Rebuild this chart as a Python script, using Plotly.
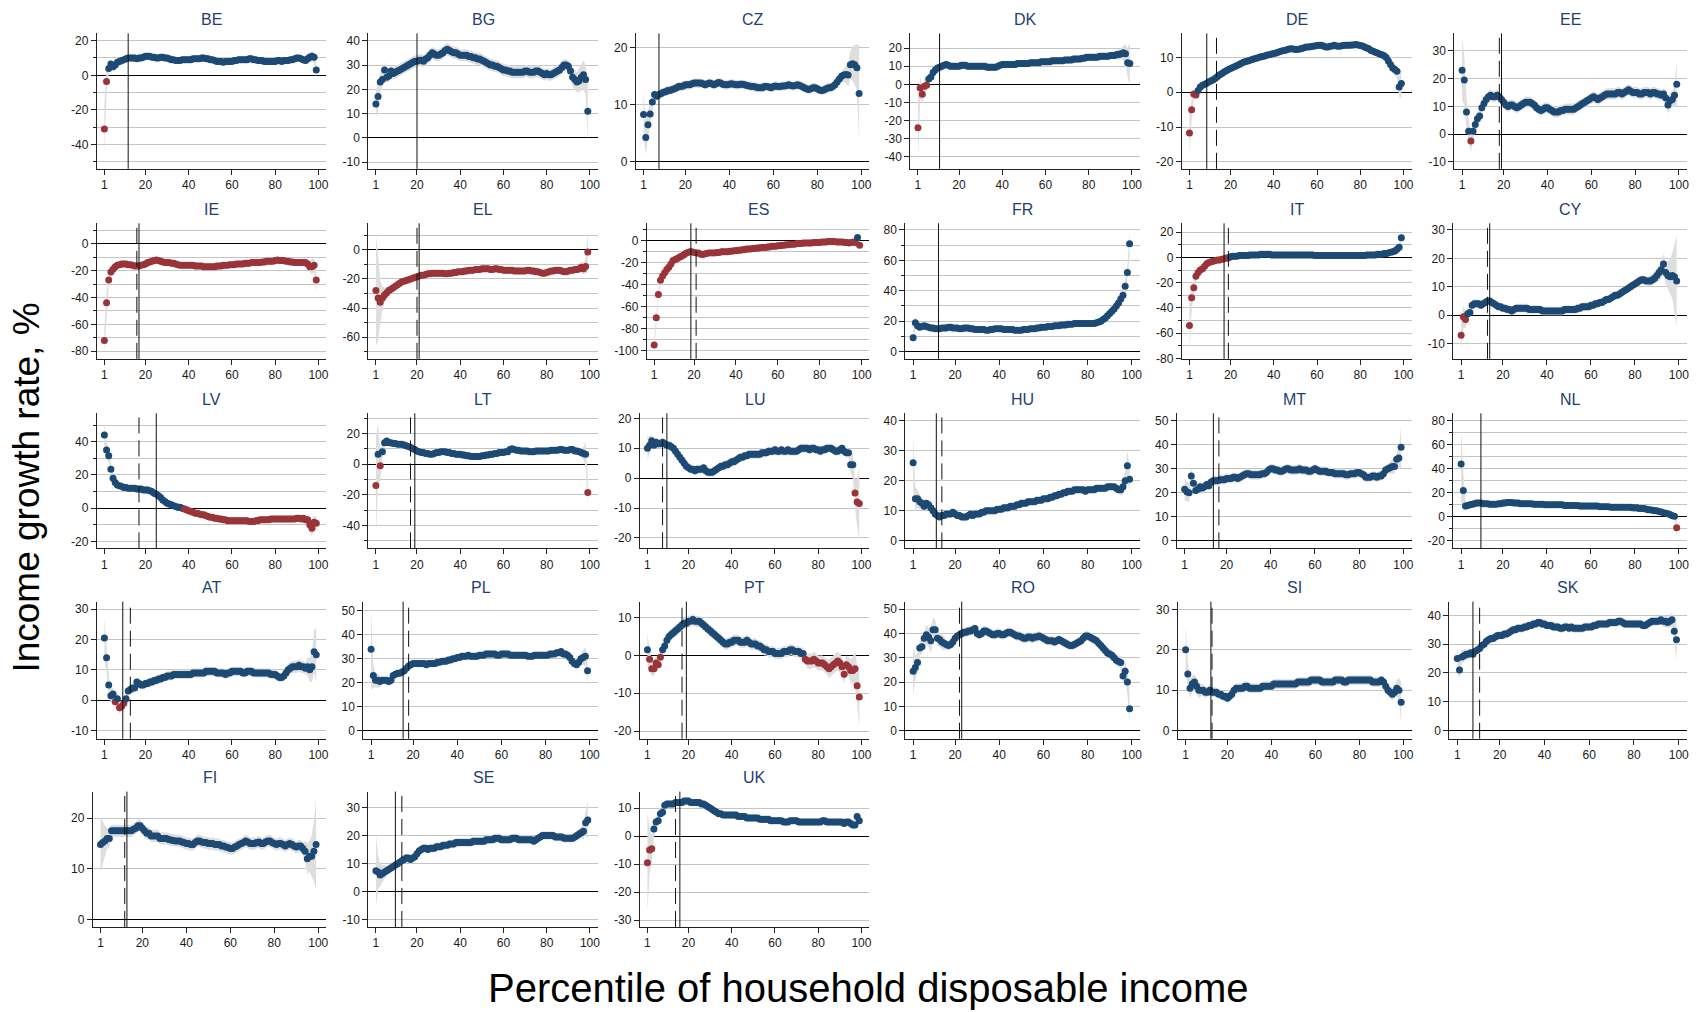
import math
import plotly.graph_objects as go

# ---------------- data ----------------
PCT = list(range(1, 100))
X_TICKS = [1, 20, 40, 60, 80, 100]

COUNTRIES = ["BE", "BG", "CZ", "DK", "DE", "EE",
             "IE", "EL", "ES", "FR", "IT", "CY",
             "LV", "LT", "LU", "HU", "MT", "NL",
             "AT", "PL", "PT", "RO", "SI", "SK",
             "FI", "SE", "UK"]

BE = [-31, -3.5, 4, 6.5, 5, 6, 7.5, 8, 8.5, 9,
      9.5, 10, 10, 10, 10, 9.5, 10, 10, 10.5, 11,
      11, 11, 10.5, 10.5, 10, 10, 10.5, 10.5, 10, 10,
      9.5, 9, 9, 8.5, 8.5, 8.5, 9, 9, 9, 9,
      9, 9.5, 9.5, 9.5, 9.5, 10, 10, 9.5, 9.5, 9,
      9, 8.5, 8, 8, 8, 7.5, 8, 8, 8, 8,
      8.5, 8.5, 9, 9, 9, 9, 9, 9.5, 9.5, 9,
      9, 8.5, 8.5, 8.5, 8, 8, 8, 8, 8, 8,
      8.5, 8.5, 8, 8.5, 8.5, 8.5, 9, 9, 9.5, 10,
      10, 9.5, 9, 8.5, 9.5, 10.5, 11, 10.5, 3]
BE_CI = [15, 7, 3, 2.5, 2.5] + [2] * 89 + [3, 3, 3, 3, 5]

BG = [14, 17, 23, 24, 28, 25, 25.5, 27.5, 26.5, 27,
      27.5, 28, 28.5, 29, 29.5, 30, 30.5, 31, 31.5, 31.5,
      32, 32, 31.5, 32.5, 33, 34, 35, 34.5, 34, 34,
      34.5, 35, 36, 36.5, 36, 35.5, 35, 35, 34.5, 34,
      34, 34, 34, 33.5, 33.5, 33, 33, 32.5, 32.5, 32,
      31.5, 31, 30.5, 30, 30, 29.5, 29.5, 29, 28.5, 28,
      28, 27.5, 27.5, 27, 27, 27, 27, 27, 27, 27.5,
      27.5, 27, 27, 27, 27.5, 27.5, 27, 26.5, 26, 26.5,
      26, 26, 26.5, 27, 27.5, 28, 29, 30, 30, 29.5,
      27.5, 25, 24, 23, 23.5, 25, 26, 24, 11]
BG_CI = [6, 5, 4, 3, 3] + [2.5] * 85 + [3, 4, 4, 4, 5, 5, 6, 6, 13]

CZ = [8.3, 4.3, 6.5, 8.4, 10.5, 11.8, 11.5, 11.8, 12, 12.2,
      12.3, 12.5, 12.5, 12.7, 12.8, 13, 13.2, 13.2, 13.3, 13.5,
      13.5, 13.5, 13.7, 13.8, 13.8, 13.8, 13.8, 13.7, 13.5, 13.7,
      13.8, 13.7, 13.5, 13.7, 13.9, 13.8, 13.6, 13.5, 13.5, 13.6,
      13.7, 13.6, 13.5, 13.5, 13.6, 13.6, 13.5, 13.4, 13.3, 13.2,
      13.2, 13.1, 13, 13, 13, 13.2, 13.2, 13.1, 13, 13.2,
      13.3, 13.2, 13.2, 13.3, 13.3, 13.4, 13.5, 13.4, 13.3, 13.4,
      13.5, 13.4, 13.2, 13, 12.8, 12.7, 12.8, 13, 13, 12.8,
      12.6, 12.5, 12.6, 12.8, 13, 13, 13.2, 13.5, 14, 14.5,
      15, 15.2, 15.3, 15.2, 17, 17.2, 17, 16.5, 12]
CZ_CI = [4, 3, 2.5, 2, 1.5] + [0.8] * 85 + [1, 1.2, 1.5, 2, 2.5, 3, 3.5, 4, 8.5]

DK = [-24, -2, -5.5, -1, -0.5, 3, 4, 6.5, 8, 9,
      9.5, 10, 10.5, 11, 10.5, 10, 10, 10, 10, 10,
      10.5, 10.5, 10.5, 10, 10, 10, 10, 10, 10, 10,
      10, 10, 9.5, 9.5, 9.5, 9.5, 9.5, 10, 10.5, 11,
      11, 11, 11, 11, 11, 11, 11.5, 11.5, 11.5, 11.5,
      11.5, 11.5, 12, 12, 12, 12, 12, 12.5, 12.5, 12.5,
      12.5, 12.5, 13, 13, 13, 13, 13, 13, 13.5, 13.5,
      13.5, 13.5, 14, 14, 14, 14, 14.5, 14.5, 15, 15,
      15, 15, 15, 15, 15.5, 15.5, 15.5, 15.5, 15.5, 16,
      16, 16, 16.5, 16.5, 17, 17.5, 17, 12, 11.5]
DK_CI = [18, 6, 5, 4, 3] + [2] * 87 + [2.5, 3, 3, 4, 5, 8, 12]

DE = [-11.7, -5, -0.5, -0.8, 0.5, 1.5, 2, 2.3, 2.6, 3,
      3.3, 3.6, 4, 4.5, 5, 5.4, 5.8, 6.2, 6.5, 6.8,
      7.1, 7.4, 7.7, 8, 8.3, 8.6, 8.8, 9, 9.2, 9.4,
      9.6, 9.8, 10, 10.2, 10.3, 10.5, 10.7, 10.8, 11, 11.1,
      11.3, 11.5, 11.7, 11.9, 12, 12.2, 12.4, 12.5, 12.4, 12.3,
      12.3, 12.4, 12.6, 12.8, 13, 13, 13.1, 13.2, 13.3, 13.4,
      13.5, 13.5, 13.3, 13, 13, 13.2, 13.3, 13.5, 13.3, 13.2,
      13.3, 13.4, 13.5, 13.5, 13.5, 13.6, 13.6, 13.7, 13.6, 13.4,
      13.3, 13, 12.7, 12.5, 12, 11.8, 11.5, 11.3, 11, 10.8,
      10.5, 10, 9, 8, 7, 6.5, 6, 1.5, 2.5]
DE_CI = [6, 3, 1.5, 1] + [0.8] * 89 + [1, 1.2, 1.5, 2, 3, 4]

EE = [23, 19.5, 8, 1, -2.5, 1, 3.5, 5.5, 6.5, 9.5,
      11, 12.5, 13.5, 14, 13.5, 13.5, 14, 13.5, 12.5, 11.5,
      10.5, 10, 10.5, 10.5, 10, 9.5, 10, 10.5, 11, 11.5,
      11.5, 11.5, 11, 10.5, 9.5, 9, 8.5, 9, 9.5, 9.5,
      9, 8.5, 8, 8, 8, 8.5, 8.5, 9, 9, 9,
      9, 9, 9.5, 10, 10.5, 11, 11.5, 12, 12.5, 13,
      13.5, 13, 12.5, 13, 13.5, 14, 14.5, 14.5, 14.5, 14.5,
      14.5, 15, 15, 14.5, 15, 15.5, 16, 15.5, 15, 15,
      15, 14.5, 14.5, 15, 15, 15, 14.5, 15, 15, 14.5,
      14.5, 14, 14.5, 13, 10.5, 12, 12.5, 14, 18]
EE_CI = [11, 9, 6, 4, 4, 3, 3, 2.5] + [2] * 85 + [3, 3, 3, 3, 4, 8]

IE = [-72, -44, -27, -21, -19, -17, -16, -15.5, -15, -15,
      -15, -15.5, -15.5, -16, -16.5, -16.5, -16.5, -16, -15.5, -15,
      -14, -13.5, -13, -12.5, -12, -12.5, -13, -13.5, -14, -14,
      -14, -14.5, -14.5, -15, -15.5, -16, -16, -16, -16, -16,
      -16, -16, -16.5, -16.5, -16.5, -16.5, -17, -17, -17, -17,
      -17, -17, -16.5, -16.5, -16.5, -16, -16, -16, -15.5, -15.5,
      -15.5, -15, -15, -15, -15, -14.5, -14.5, -14.5, -14, -14,
      -14, -14, -14, -13.5, -13.5, -13, -13, -13, -13, -12.5,
      -12, -12.5, -12.5, -12.5, -13, -13, -13.5, -13.5, -14, -14,
      -14, -14, -14, -14, -15, -17, -17, -16, -27]
IE_CI = [10, 8, 4, 3, 2] + [1.5] * 89 + [3, 4, 6, 5, 9]

EL = [-28, -33, -36, -33, -31, -29.5, -28, -27, -26, -25,
      -24, -23, -22, -21.5, -21, -20.5, -20, -19.5, -19, -18.5,
      -18, -17.5, -17.5, -17, -16.5, -16.5, -16, -16, -16, -16,
      -16, -16, -16.5, -16.5, -16, -16, -15.5, -15.5, -15, -15,
      -15, -14.5, -14.5, -14, -14, -14, -13.5, -13.5, -13.5, -13,
      -13, -13, -13, -13.5, -13.5, -13, -13, -13.5, -13.5, -14,
      -14, -14, -14, -14, -14.5, -14.5, -14.5, -14.5, -14.5, -14.5,
      -14, -14, -14.5, -14.5, -15, -15, -15.5, -16, -16, -15.5,
      -15, -14.5, -14.5, -14, -14, -14, -14.5, -15, -15, -14.5,
      -14, -14, -13.5, -13.5, -13, -12, -13, -11.5, -1.5]
EL_CI = [38, 30, 15, 8, 5, 4, 3] + [2] * 87 + [3, 4, 4, 5, 14]

ES = [-95, -70, -49, -36, -32, -29, -26, -24, -21, -18,
      -17, -16, -15, -14, -13, -11.5, -10.5, -10, -10, -10.5,
      -11, -11, -12, -12.5, -12, -11.5, -11, -11, -11, -11,
      -10.5, -10.5, -10, -10, -10, -10, -9.5, -9.5, -9, -9,
      -8.5, -8.5, -8, -8, -7.5, -7.5, -7.5, -7, -7, -6.5,
      -6.5, -6, -6, -6, -5.5, -5.5, -5, -5, -5, -4.5,
      -4.5, -4, -4, -3.5, -3.5, -3, -3, -3, -2.5, -2.5,
      -2.5, -2, -2, -2, -2, -2, -1.5, -1.5, -1.5, -1.5,
      -1, -1, -1, -0.5, -0.5, -0.5, -0.5, -1, -1, -1,
      -1, -1.5, -1.5, -2, -1.5, -1, -1.5, 3, -4]
ES_CI = [5, 5, 4, 3, 3] + [2] * 92 + [3, 3]

FR = [9, 19, 17, 16, 16.5, 17, 16.5, 16, 15.5, 15.5,
      15, 15, 15, 15.5, 15.5, 15.5, 16, 16, 15.5, 15.5,
      15.5, 15, 15, 15.5, 15.5, 15.5, 15, 15, 14.5, 14.5,
      14.5, 14.5, 14.5, 14, 14, 14.5, 14.5, 15, 15, 15,
      15, 14.5, 14.5, 14.5, 14.5, 14.5, 14, 14, 14, 14,
      14.5, 14.5, 14.5, 15, 15, 15, 15.5, 15.5, 16, 16,
      16, 16.5, 16.5, 16.5, 17, 17, 17, 17.5, 17.5, 17.5,
      18, 18, 18, 18.5, 18.5, 18.5, 18.5, 18.5, 18.5, 18.5,
      18.5, 18.5, 18.5, 19, 19.5, 20, 21, 22, 23.5, 25,
      26.5, 28, 30, 32, 34.5, 37, 43, 52, 71]
FR_CI = [4, 4, 3, 2] + [1.5] * 85 + [2, 2, 2, 2.5, 2.5, 3, 3.5, 4, 5, 8]

IT = [-54, -32, -24, -15, -12, -10, -9, -7, -5, -4,
      -3.5, -3, -2.5, -2, -2, -1.5, -1, -0.5, -0.5, 0.5,
      1, 1, 1, 1.5, 1.5, 1.5, 1.5, 1.5, 2, 2,
      2, 2, 2, 2.5, 2.5, 2.5, 2.5, 2.5, 2, 2,
      2, 2, 2, 2, 2, 2, 2, 2, 2, 2,
      2, 2, 2, 2, 2, 2, 2, 2, 1.5, 1.5,
      1.5, 1.5, 1.5, 1.5, 1.5, 1.5, 1.5, 1.5, 1.5, 1.5,
      1.5, 1.5, 1.5, 1.5, 1.5, 1.5, 1.5, 1.5, 1.5, 1.5,
      1.5, 1.5, 2, 2, 2, 2, 2, 2.5, 2.5, 2.5,
      3, 3, 3.5, 4, 4.5, 5, 6.5, 8, 15.5]
IT_CI = [20, 10, 6, 4, 3, 2.5, 2, 2] + [1] * 86 + [1.5, 1.5, 2, 3, 6]

CY = [-7, -0.5, -1.5, 0.5, 1, 3.5, 4, 4, 4, 3.5,
      4, 4.5, 5, 5, 4.5, 4, 3.5, 3, 3, 2.5,
      2.5, 2, 2, 1.5, 2, 2.5, 2.5, 2.5, 2.5, 2.5,
      2.5, 2, 2, 2, 2, 2, 2, 1.5, 1.5, 1.5,
      1.5, 1.5, 1.5, 1.5, 1.5, 1.5, 1.5, 2, 2, 2,
      2, 2, 2, 2.5, 2.5, 3, 3, 3, 3, 3.5,
      3.5, 4, 4, 4.5, 4.5, 5, 5.5, 5.5, 6, 6.5,
      7, 7, 7.5, 8, 8.5, 9, 9.5, 10, 10.5, 11,
      11.5, 12, 12.5, 12.5, 12, 12, 12, 12.5, 13, 14,
      15, 16, 18, 15, 14, 13.5, 14, 13.5, 12]
CY_CI = [5, 4, 3, 2.5] + [1.5] * 82 + [2, 2, 2, 2.5, 3, 3, 3.5, 4, 5, 6, 8, 12, 16]

LV = [44, 35, 31.5, 23.5, 18, 15.5, 14, 13.5, 13, 12.5,
      12.5, 12, 12, 12, 12, 11.5, 11.5, 11.5, 11, 11,
      11, 10.5, 10, 9, 8.5, 7.5, 6.5, 5, 4, 3,
      2.5, 2, 1.5, 1, 0.5, 0.5, 0, -0.5, -1, -1.5,
      -2, -2.5, -3, -3, -3.5, -4, -4, -4.5, -5, -5.5,
      -5.5, -6, -6, -6.5, -6.5, -7, -7, -7.5, -7.5, -7.5,
      -7.5, -7.5, -7.5, -7.5, -7.5, -7.5, -7.5, -8, -8, -8,
      -7.5, -7.5, -7, -7, -7, -7, -7, -6.5, -6.5, -6.5,
      -6.5, -6.5, -6.5, -6.5, -6.5, -6.5, -6.5, -6.5, -6.5, -6,
      -6, -6.5, -6, -7, -7, -10, -12, -8.5, -9]
LV_CI = [8, 5, 4, 3, 2.5] + [2] * 89 + [3, 4, 5, 4, 4]

LT = [-14, 6.5, -1, 8, 14, 15, 14, 14, 13.5, 13.5,
      13, 13, 13, 12.5, 12, 11.5, 11, 10, 9.5, 8.5,
      8, 7.5, 7.5, 7, 7, 6.5, 6.5, 7, 7.5, 7.5,
      8, 8, 8, 7.5, 7.5, 7, 7, 6.5, 6.5, 6.5,
      6, 6, 5.5, 5.5, 5, 5, 5, 5, 5, 5.5,
      5.5, 6, 6, 6.5, 6.5, 7, 7, 7.5, 7.5, 7.5,
      8, 8, 9.5, 10, 9.5, 9, 9, 8.5, 8.5, 8.5,
      8.5, 8, 8, 8, 8.5, 8.5, 8.5, 8.5, 8.5, 8.5,
      8.5, 9, 9, 9, 9, 9.5, 9.5, 9, 9, 9,
      9.5, 9.5, 8.5, 8.5, 8, 7.5, 7, 6.5, -18.5]
LT_CI = [32, 20, 10, 5, 3] + [2] * 90 + [3, 4, 8, 9]

LU = [10, 11, 12.5, 11, 12, 11.5, 11.5, 12, 11.5, 11,
      11, 10.5, 10, 9, 8, 7, 6, 5, 4, 3.5,
      3, 3, 2.5, 3, 3, 3, 3.5, 2.5, 2, 2,
      2, 2.5, 3, 3.5, 4, 4, 4.5, 4.5, 5, 5.5,
      5.5, 6, 6.5, 7, 7, 7.5, 7.5, 8, 8, 8,
      8, 8, 8, 8.5, 8.5, 8.5, 9, 9, 9, 9.5,
      9, 9, 9.5, 9, 9, 9.5, 9, 9, 9, 9,
      9.5, 10, 10, 10, 10, 9.5, 10, 10, 9.5, 9.5,
      9, 9.5, 9.5, 10, 10, 10, 9.5, 9, 9, 9.5,
      10, 9, 8.5, 8.5, 4.5, 4.5, -5, -8, -8.5]
LU_CI = [4, 3, 2] + [1.5] * 91 + [3, 4, 5, 8, 12]

HU = [26, 14, 14, 13, 12.5, 11.5, 12.5, 12, 11, 10,
      9, 8.5, 8, 8.5, 8.5, 9, 9, 9, 9.5, 9,
      8.5, 8.5, 8, 8, 8, 8.5, 9, 8.5, 9, 9,
      9, 9.5, 9.5, 10, 10, 10, 10, 10, 10.5, 10.5,
      10.5, 11, 11, 11, 11.5, 11.5, 11.5, 12, 12, 12.5,
      12.5, 12.5, 13, 13, 13, 13, 13.5, 13.5, 13.5, 14,
      14, 14, 14.5, 14.5, 15, 15, 15.5, 15.5, 16, 16,
      16.5, 16.5, 16.5, 17, 17, 17, 17, 17, 16.5, 17,
      17, 17, 17, 17.5, 17.5, 17.5, 17.5, 17.5, 18, 18,
      18, 18, 17.5, 17, 17, 18, 20, 25, 20.5]
HU_CI = [9, 4, 3, 2.5, 2] + [1.2] * 89 + [2, 2.5, 3, 5, 4]

MT = [21.5, 20.5, 20, 27, 24, 21, 21.5, 22.5, 22, 22.5,
      23.5, 23, 24.5, 25, 25, 25, 25.5, 25.5, 25.5, 26,
      26, 26, 26.5, 26.5, 26, 26.5, 27, 27.5, 28, 28,
      27.5, 27.5, 27.5, 27.5, 27.5, 28, 28, 28.5, 29.5, 30,
      30, 29.5, 29.5, 29, 29, 29.5, 30, 30, 29.5, 29.5,
      29.5, 29.5, 30, 29.5, 29.5, 29.5, 29, 29, 29.5, 30,
      29.5, 29, 29, 29, 29, 28.5, 28.5, 28.5, 28, 28,
      28, 28, 28, 27.5, 27.5, 28, 28, 28, 28.5, 28.5,
      28, 27.5, 26.5, 26.5, 26.5, 27, 27, 26.5, 27, 27,
      28, 29.5, 30, 30.5, 31, 31, 34, 34.5, 39]
MT_CI = [5, 4, 4, 3, 3] + [2] * 88 + [2.5, 3, 3, 3, 4, 9]

NL = [44, 22, 9, 9.5, 10, 10.5, 11, 11.5, 11.5, 11.5,
      11, 11, 11, 10.5, 10.5, 10.5, 10.5, 11, 11, 11.5,
      11.5, 12, 12, 12, 11.5, 11.5, 11.5, 11, 11, 11,
      11, 11, 11, 10.5, 10.5, 10.5, 10.5, 10.5, 10, 10,
      10, 10, 10, 10, 10, 10, 10, 9.5, 9.5, 9.5,
      9.5, 9.5, 9.5, 9.5, 9, 9, 9, 9, 9, 9,
      9, 9, 9, 8.5, 8.5, 8.5, 8.5, 8.5, 8, 8,
      8, 8, 8, 8, 8, 8, 8, 8, 7.5, 7.5,
      7.5, 7, 7, 7, 6.5, 6, 6, 5.5, 5, 5,
      4.5, 4, 3.5, 3, 2.5, 2, 1, 0.5, -9]
NL_CI = [32, 15, 4, 2] + [1.5] * 90 + [2, 2, 2.5, 3, 8]

AT = [20.5, 14, 5, 1.5, 2, -0.5, 0.5, -2.5, -2, -1,
      0.5, 3, 3.5, 4, 4, 6, 5.5, 5, 5, 5.5,
      5.5, 6, 6, 6.5, 6.5, 7, 7, 7.5, 7.5, 8,
      8, 8, 8.5, 8.5, 8.5, 8.5, 8.5, 8.5, 8.5, 8.5,
      8.5, 9, 9, 9, 9, 9, 9, 9.5, 9.5, 9.5,
      9.5, 9.5, 9, 9, 9, 9, 8.5, 9, 9, 9.5,
      9.5, 9.5, 9.5, 9.5, 9, 9, 9.5, 9.5, 9.5, 9,
      9, 9, 9, 9, 9, 9, 9, 8.5, 8.5, 8.5,
      8, 7.5, 7.5, 8, 9, 10, 10.5, 11, 11, 11,
      11.5, 11, 11, 10.5, 11, 10, 11, 16, 15]
AT_CI = [7, 5, 3, 2.5, 2, 2, 2, 2] + [1.5] * 77 + [2] * 9 + [3, 4, 5, 7, 9]

PL = [34, 23, 21, 21, 20.5, 21, 21, 21, 20.5, 21,
      23, 23.5, 24, 24, 24.5, 25, 26, 27, 27.5, 28,
      28, 28, 28, 28, 28, 27.5, 28, 28, 28, 28,
      28.5, 28.5, 29, 29, 29, 29.5, 29.5, 30, 30, 30.5,
      30.5, 31, 31, 31, 31.5, 31, 31, 31, 31, 31.5,
      31.5, 31.5, 32, 32, 32, 32, 32, 31.5, 31.5, 32,
      32, 32, 32, 31.5, 31.5, 31.5, 31.5, 31.5, 31.5, 31.5,
      31.5, 31, 31, 31, 31.5, 31.5, 31.5, 31.5, 31.5, 31.5,
      31.5, 32, 32, 32, 32.5, 32.5, 33, 32, 32, 31.5,
      30.5, 29, 28, 27.5, 28.5, 30, 30.5, 31, 25]
PL_CI = [17, 5, 3, 3, 2.5] + [1.5] * 89 + [2, 2.5, 3, 4, 6]

PT = [1.5, -1, -3.5, -3.5, -2, -2.5, -0.5, 1.5, 2.5, 4,
      5, 5.5, 6, 6.5, 7, 7.5, 8, 8.5, 8.5, 9,
      9, 9.5, 9, 9, 9, 8.5, 8, 7.5, 7, 6.5,
      6, 5.5, 5, 4.5, 4, 3.5, 3, 3, 3.5, 3.5,
      4, 4, 4, 3.5, 3.5, 3.5, 4, 3.5, 3, 3,
      3, 2.5, 2.5, 2, 1.5, 1.5, 1, 1, 1, 0.5,
      0.5, 0.5, 0.5, 1, 1, 1, 1.5, 1.5, 1, 1,
      1, 0.5, 0.5, -1, -1.5, -1.5, -1.5, -1, -1.5, -2,
      -2, -2, -2.5, -3, -3.5, -3, -2.5, -2, -1.5, -2,
      -3, -5, -2.5, -3, -4, -4, -3.5, -8, -11]
PT_CI = [4, 3, 2, 2, 2] + [1.5] * 69 + [2] * 10 + [2.5] * 10 + [3, 3.5, 5, 5, 8]

RO = [24.5, 26, 28, 34, 34.5, 38, 39.5, 38.5, 37, 41.5,
      41.5, 38, 37.5, 36.5, 36, 35.5, 35, 35.5, 36.5, 38,
      39, 39.5, 40, 40.5, 40.5, 41, 41, 41.5, 42, 40,
      39.5, 40, 41, 41, 40.5, 40, 39.5, 39.5, 40, 40,
      39.5, 39.5, 40, 40.5, 40.5, 40, 39.5, 39, 39, 38.5,
      38, 38, 38.5, 38.5, 38, 38.5, 38.5, 39, 38.5, 38,
      37.5, 37, 37, 37, 36.5, 37, 37.5, 37, 36.5, 36,
      35.5, 35, 35, 35.5, 36, 36.5, 37, 38, 39, 39,
      38.5, 38, 37.5, 37, 36, 35, 34, 33, 32, 31.5,
      31, 30, 29, 28.5, 28, 22.5, 24.5, 20, 9]
RO_CI = [10, 5, 4, 3, 3, 3, 4, 4, 5, 5, 4, 3, 3, 3, 3] + [2] * 79 + [3, 3, 4, 5, 6]

SI = [20, 14, 10.5, 11.5, 12, 11, 10, 10, 10, 9.5,
      9.5, 10, 9.5, 9.5, 9.5, 9, 9, 8.5, 8.5, 8,
      8.5, 9, 10, 10.5, 10.5, 10.5, 10.5, 11, 11, 10.5,
      10.5, 10.5, 10.5, 10.5, 10.5, 11, 11, 11, 11, 11,
      11.5, 11.5, 11.5, 11.5, 11.5, 11.5, 11.5, 11.5, 11.5, 11.5,
      11.5, 12, 12, 12, 12, 12, 12, 12.5, 12.5, 12.5,
      12.5, 12.5, 12, 12, 12, 12, 12, 12, 12.5, 12.5,
      12.5, 12.5, 12, 12, 12.5, 12.5, 12.5, 12.5, 12.5, 12.5,
      12.5, 12.5, 12.5, 12.5, 12.5, 12, 12, 12, 12, 12.5,
      12, 11, 10, 9.5, 9, 9.5, 10.5, 10, 7]
SI_CI = [6, 3, 2.5, 2, 2, 2, 2, 1.5, 1.5, 1.5] + [1.2] * 83 + [1.5, 1.5, 1.5, 2, 3, 5]

SK = [25, 21, 25.5, 26, 26.5, 26.5, 27, 26.5, 27.5, 28,
      28.5, 29.5, 30, 31, 31.5, 32, 32, 32.5, 33, 33,
      33, 33.5, 33.5, 34, 34.5, 35, 35, 35.5, 35.5, 35.5,
      36, 36, 36.5, 36.5, 37, 37, 37.5, 37.5, 37, 37,
      36.5, 36.5, 36.5, 36, 36, 36, 35.5, 35.5, 36, 36,
      35.5, 36, 35.5, 35.5, 35.5, 35.5, 35.5, 36, 36, 36,
      36, 36.5, 36.5, 37, 37, 37, 37, 37, 37.5, 37.5,
      37.5, 37.5, 38, 38, 37.5, 37, 37, 37, 37, 37,
      37, 37, 37, 36.5, 36.5, 37, 37.5, 38, 38, 38,
      38, 38.5, 38, 38, 37.5, 38, 38.5, 34.5, 31.5]
SK_CI = [4, 3, 2.5, 2, 2] + [1.5] * 87 + [2, 2, 2, 2, 2.5, 4, 7]

FI = [14.8, 15.2, 15.5, 16, 16, 17.5, 17.5, 17.5, 17.5, 17.5,
      17.5, 17.5, 17.5, 17.5, 17.5, 17.8, 18, 18.5, 18.5, 18,
      17.5, 17, 17, 16.5, 16.5, 16.5, 16.5, 16, 16, 16,
      16, 15.8, 15.7, 15.6, 15.5, 15.5, 15.5, 15.3, 15.2, 15,
      15, 14.8, 14.8, 15.2, 15.5, 15.5, 15.3, 15.2, 15.2, 15,
      15, 15, 14.8, 14.8, 14.8, 14.5, 14.5, 14.3, 14.2, 14,
      14, 14.3, 14.5, 14.8, 15, 15.2, 15.5, 15.3, 15, 15,
      15, 15.2, 15.3, 15, 15, 15.3, 15.5, 15.5, 15.2, 15,
      14.8, 15, 15, 14.8, 14.5, 14.8, 15, 14.8, 14.5, 14.3,
      14.5, 14.5, 14, 13.5, 12, 12.5, 12.5, 13.5, 14.8]
FI_CI = [5.5, 4, 3, 2, 2] + [1.2] * 88 + [2, 3, 3, 4, 6, 9]

SE = [7.5, 7, 6, 6.5, 7, 7.5, 8, 8.5, 9, 9.5,
      10, 10.5, 11, 11.5, 12, 12, 11.5, 12, 12.5, 13.5,
      14.5, 15, 15.5, 15.5, 15, 15.5, 15.5, 15.5, 16, 16,
      16, 16.5, 16.5, 16.5, 17, 17, 17, 17.5, 17.5, 17.5,
      17.5, 17.5, 17.5, 17.5, 17.5, 18, 18, 18, 18, 18,
      18, 18.5, 18.5, 18.5, 18.5, 19, 19, 19, 18.5, 18.5,
      18.5, 18.5, 18.5, 19, 19, 19, 18.5, 18.5, 18.5, 18.5,
      18.5, 18.5, 18.5, 18, 18.5, 19, 19.5, 20, 20, 20,
      20, 20, 20, 19.5, 19.5, 19.5, 19.5, 19, 19, 19,
      19, 19, 19.5, 20, 20.5, 21, 21.5, 24.5, 25.5]
SE_CI = [13, 6, 4, 3, 2.5] + [1.5] * 89 + [2, 2, 3, 4, 7]

UK = [-9.5, -5, -4.5, 2.5, 5, 5.5, 8, 8.5, 11, 11.5,
      11.5, 11.5, 11.5, 12, 12, 12, 12, 12.5, 12.5, 12.5,
      12, 12, 12, 12, 12, 11.5, 11.5, 11, 10.5, 10,
      9.5, 9, 8.5, 8, 8, 7.5, 7.5, 7.5, 7.5, 7.5,
      7.5, 7.5, 7, 7, 7, 7, 6.5, 6.5, 6.5, 6.5,
      6.5, 6.5, 6, 6, 6, 6, 6, 5.5, 5.5, 5.5,
      5.5, 5.5, 5.5, 5, 5, 5, 5.5, 5.5, 5.5, 5.5,
      5, 5, 5, 5, 5, 5, 5, 5, 5, 5,
      5, 5.5, 5.5, 5, 5, 5, 5, 5, 5, 5,
      5, 4.5, 5, 5, 4.5, 4, 4, 7, 5.5]
UK_CI = [18, 8, 5, 3, 2] + [1.2] * 90 + [1.5, 2, 2, 2]

VALUES = [BE, BG, CZ, DK, DE, EE, IE, EL, ES, FR, IT, CY, LV, LT, LU, HU, MT, NL,
          AT, PL, PT, RO, SI, SK, FI, SE, UK]
CIS = [BE_CI, BG_CI, CZ_CI, DK_CI, DE_CI, EE_CI, IE_CI, EL_CI, ES_CI, FR_CI, IT_CI, CY_CI,
       LV_CI, LT_CI, LU_CI, HU_CI, MT_CI, NL_CI, AT_CI, PL_CI, PT_CI, RO_CI, SI_CI, SK_CI,
       FI_CI, SE_CI, UK_CI]

# reference percentiles (vertical lines)
VL_SOLID = [12, 20, 8, 11, 9, 19,
            17, 21, 18.5, 12.5, 17, 14,
            25, 19, 10, 11.5, 14, 10,
            9.5, 15.5, 19, 23, 12.5, 8,
            13, 10, 16]
VL_DASH = [None, None, None, None, 13.5, 18,
           16, 20, 21, None, 19, 13,
           17, 17, 8, 14, 16.5, None,
           13, 18, 17, 22, 13, 11,
           12, 13, 14]

# y-axis scales
Y_MIN = [-54, -12.7, -1.2, -46.8, -22, -12.5,
         -85.7, -74.8, -107.5, -4.8, -80.3, -15.3,
         -24.2, -54.9, -23.5, -2.5, -3.1, -26.3,
         -12.7, -3.3, -22, -3.3, -2, -2.9,
         -1.4, -12.5, -32.5]
Y_MAX = [24.2, 43, 22.5, 28.2, 16.9, 36.3,
         15.3, 18.2, 16, 84.4, 27, 32.3,
         57.1, 33.1, 21.7, 42.5, 53.1, 86.3,
         32.5, 53.8, 14.2, 53.1, 31.9, 44.8,
         25.2, 35.6, 15.9]
Y_STEP = [20, 10, 10, 10, 10, 10,
          20, 20, 20, 20, 20, 10,
          20, 20, 10, 10, 10, 20,
          10, 10, 10, 10, 10, 10,
          10, 10, 10]

# ---------------- layout constants ----------------
W, H = 1697, 1012
PANEL_LEFT = [97, 369, 637, 912, 1184, 1457,
              97, 369, 648, 907, 1184, 1456,
              97, 369, 641, 907, 1179, 1456,
              97, 364, 641, 907, 1180, 1452,
              93, 369, 641]
COL_RIGHT = [327, 599, 871, 1142, 1414, 1690]
ROW_TOP = [31.7, 223.3, 415, 605, 796.7]
ROW_BOT = [168.3, 360, 551.3, 743.3, 933.3]

FONT = "Liberation Sans, Arial, Helvetica, sans-serif"
BLUE = "#1c4a74"
RED = "#9a3438"
BAND = "#dedede"
GRID = "#c4c4c4"
TITLE_COLOR = "#1f3f70"
TICKFONT = dict(family=FONT, size=12, color="#1a1a1a")

fig = go.Figure()
layout = {}
annotations = []
shapes = []

for i, c in enumerate(COUNTRIES):
    k = i + 1
    r, col = divmod(i, 6)
    xa = "x" if k == 1 else f"x{k}"
    ya = "y" if k == 1 else f"y{k}"
    sfx = "" if k == 1 else str(k)
    vals = VALUES[i]
    ci = CIS[i]
    n = min(len(vals), len(ci), len(PCT))
    x = PCT[:n]
    lo = [v - h for v, h in zip(vals[:n], ci[:n])]
    hi = [v + h for v, h in zip(vals[:n], ci[:n])]
    fig.add_trace(go.Scatter(x=x, y=lo, mode="lines", line=dict(width=0, color=BAND),
                             xaxis=xa, yaxis=ya, showlegend=False, hoverinfo="skip"))
    fig.add_trace(go.Scatter(x=x, y=hi, mode="lines", line=dict(width=0, color=BAND),
                             fill="tonexty", fillcolor=BAND,
                             xaxis=xa, yaxis=ya, showlegend=False, hoverinfo="skip"))
    colors = [BLUE if v >= 0 else RED for v in vals[:n]]
    fig.add_trace(go.Scatter(x=x, y=vals[:n], mode="markers",
                             marker=dict(size=7, color=colors, line=dict(width=0)),
                             xaxis=xa, yaxis=ya, showlegend=False, name=c))

    left = PANEL_LEFT[i]
    right = COL_RIGHT[col]
    top = ROW_TOP[r]
    bot = ROW_BOT[r]
    step = Y_STEP[i]
    ymin, ymax = Y_MIN[i], Y_MAX[i]
    major = list(range(int(math.ceil(ymin / step)) * step, int(math.floor(ymax / step)) * step + 1, step))
    grid10 = [v for v in range(int(math.ceil(ymin / 10)) * 10, int(math.floor(ymax / 10)) * 10 + 1, 10)
              if v % step != 0]

    layout["xaxis" + sfx] = dict(
        domain=[left / W, right / W], range=[-2.5, 103.7], anchor=ya,
        tickmode="array", tickvals=X_TICKS, ticktext=[str(t) for t in X_TICKS],
        ticks="outside", ticklen=5, tickwidth=1, tickcolor="#222",
        showline=True, linecolor="#222", linewidth=1.2,
        showgrid=False, zeroline=False, tickfont=TICKFONT, fixedrange=True)
    yax = dict(
        domain=[1 - bot / H, 1 - top / H], range=[ymin, ymax], anchor=xa,
        tickmode="array", tickvals=major, ticktext=[str(v) for v in major],
        ticks="outside", ticklen=5, tickwidth=1, tickcolor="#222",
        showline=True, linecolor="#222", linewidth=1.2,
        showgrid=True, gridcolor=GRID, gridwidth=1,
        zeroline=True, zerolinecolor="black", zerolinewidth=1.2,
        tickfont=TICKFONT, fixedrange=True)
    if grid10:
        yax["minor"] = dict(tickmode="array", tickvals=grid10, ticks="outside", ticklen=3,
                            tickcolor="#222", showgrid=True, gridcolor=GRID, gridwidth=1)
    layout["yaxis" + sfx] = yax

    for xv, dash in ((VL_SOLID[i], "solid"), (VL_DASH[i], "16px,7px")):
        if xv is None:
            continue
        shapes.append(dict(type="line", xref=xa, yref=f"{ya} domain", x0=xv, x1=xv, y0=0, y1=1,
                           line=dict(color="#111", width=1, dash=dash), layer="above"))

    annotations.append(dict(text=c, x=(left + right) / 2 / W, y=1 - (top - 14) / H,
                            xref="paper", yref="paper", showarrow=False,
                            xanchor="center", yanchor="middle",
                            font=dict(family=FONT, size=16, color=TITLE_COLOR)))

annotations.append(dict(text="Income growth rate, %", x=27 / W, y=1 - 490 / H,
                        xref="paper", yref="paper", showarrow=False, textangle=-90,
                        xanchor="center", yanchor="middle",
                        font=dict(family=FONT, size=37, color="black")))
annotations.append(dict(text="Percentile of household disposable income", x=870 / W, y=1 - 995 / H,
                        xref="paper", yref="paper", showarrow=False,
                        xanchor="center", yanchor="middle",
                        font=dict(family=FONT, size=40, color="black")))

fig.update_layout(**layout)
fig.update_layout(width=W, height=H, margin=dict(l=0, r=0, t=0, b=0),
                  paper_bgcolor="white", plot_bgcolor="white",
                  showlegend=False, annotations=annotations, shapes=shapes,
                  font=dict(family=FONT))

fig.write_html("out.html")
